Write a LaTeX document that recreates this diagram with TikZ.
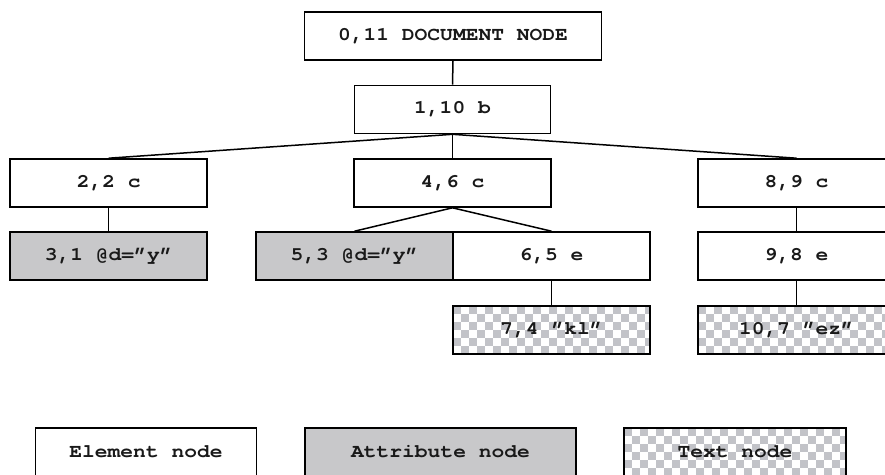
\documentclass[tikz,border=0pt]{standalone}
\usepackage{fontspec}
\usepackage{graphicx}
\newfontfamily\curfont{texgyrecursor-bold.otf}
\newcommand\lbl[1]{\scalebox{1.12}[1]{#1}}
\definecolor{attrgray}{RGB}{200,200,202}
\definecolor{checkgray}{RGB}{194,195,200}
\tikzset{
  box/.style={draw, line width=1.6pt, inner sep=0pt, minimum height=48pt,
    font=\curfont\fontsize{19}{21}\selectfont, text=black!90},
  elem/.style={box, fill=white},
  attr/.style={box, fill=attrgray},
  textn/.style={box, fill=white, path picture={
    \foreach \i in {0,2,...,36} \foreach \j in {0,2,...,6} {
      \fill[checkgray] ([shift={(\i*8pt,-\j*8pt)}]path picture bounding box.north west) rectangle ++(8pt,-8pt);
      \fill[checkgray] ([shift={(\i*8pt+8pt,-\j*8pt-8pt)}]path picture bounding box.north west) rectangle ++(8pt,-8pt);
    }}},
  edge/.style={line width=1.5pt}
}
\begin{document}
\begin{tikzpicture}[x=1pt,y=-1pt]
\useasboundingbox (0,0) rectangle (885,474);
\node[elem, minimum width=297pt] (doc) at (453,36) {\lbl{0,11 DOCUMENT NODE}};
\node[elem, minimum width=196pt] (b) at (452.5,109.5) {\lbl{1,10 b}};
\node[elem, minimum width=197pt] (c1) at (108.7,183) {\lbl{2,2 c}};
\node[elem, minimum width=197pt] (c2) at (452.5,183) {\lbl{4,6 c}};
\node[elem, minimum width=197pt] (c3) at (796.5,183) {\lbl{8,9 c}};
\node[attr, minimum width=197pt] (a1) at (108.7,256) {\lbl{3,1 @d=”y”}};
\node[attr, minimum width=197pt] (a2) at (354.5,256) {\lbl{5,3 @d=”y”}};
\node[elem, minimum width=197pt] (e1) at (551.5,256) {\lbl{6,5 e}};
\node[elem, minimum width=197pt] (e2) at (796.5,256) {\lbl{9,8 e}};
\node[textn, minimum width=197pt] (t1) at (551.5,330) {\lbl{7,4 ”kl”}};
\node[textn, minimum width=197pt] (t2) at (796.5,330) {\lbl{10,7 ”ez”}};
\node[elem, minimum width=221pt] (le) at (146,452) {\lbl{Element node}};
\node[attr, minimum width=271pt] (la) at (440.5,452) {\lbl{Attribute node}};
\node[textn, minimum width=222pt] (lt) at (735,452) {\lbl{Text node}};
\draw[edge] (doc.south) -- (b.north);
\draw[edge] (b.south) -- (c1.north);
\draw[edge] (b.south) -- (c2.north);
\draw[edge] (b.south) -- (c3.north);
\draw[edge] (c1.south) -- (a1.north);
\draw[edge] (c2.south) -- (a2.north);
\draw[edge] (c2.south) -- (e1.north);
\draw[edge] (e1.south) -- (t1.north);
\draw[edge] (c3.south) -- (e2.north);
\draw[edge] (e2.south) -- (t2.north);
\end{tikzpicture}
\end{document}
